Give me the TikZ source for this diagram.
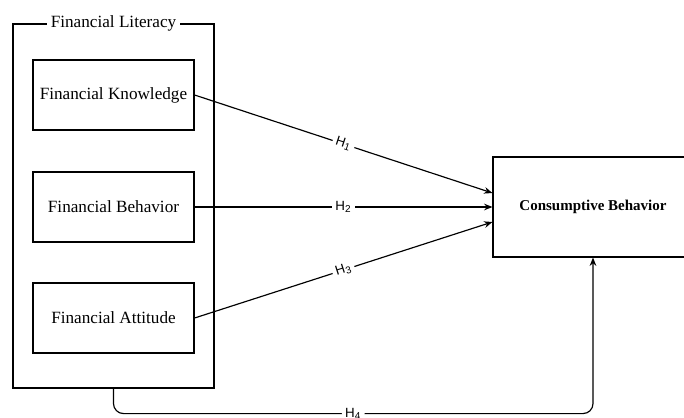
\documentclass[tikz,border=0pt]{standalone}
\usepackage{fontspec}
\setmainfont{Liberation Serif}
\newfontfamily\lblfont{Liberation Sans}
\usetikzlibrary{arrows.meta}

\begin{document}
\begin{tikzpicture}[x=0.6pt, y=-0.6pt, line width=0.7pt,
  box/.style={draw, rectangle, inner sep=0pt, minimum width=96.6pt, minimum height=42pt, font=\fontsize{10.3}{12}\selectfont},
  arr/.style={-{Stealth[length=5pt, width=4pt]}},
  hyp/.style={fill=white, inner sep=2pt, font=\lblfont\fontsize{8}{9}\selectfont}]

\useasboundingbox (0,0) rectangle (684,417);

% Outer frame with its title
\node[draw, rectangle, inner sep=0pt, minimum width=120.6pt, minimum height=218.4pt] (lit) at (113.5,206) {};
\node[fill=white, inner sep=2pt, font=\fontsize{10.3}{12}\selectfont] (littitle) at (lit.north) {Financial Literacy};

% The three dimensions
\node[box] (know) at (113.5,95) {Financial Knowledge};
\node[box] (behav) at (113.5,207) {Financial Behavior};
\node[box] (att) at (113.5,318) {Financial Attitude};

% Dependent variable
\node[draw, rectangle, inner sep=0pt, minimum width=120pt, minimum height=60pt, font=\bfseries\fontsize{9}{11}\selectfont] (cb) at (593,207) {Consumptive Behavior};

% Hypotheses
\draw[arr] (know.east) -- node[hyp, sloped] {H\textsubscript{1}} ([yshift=8.4pt]cb.west);
\draw[arr] (behav.east) -- node[hyp] {H\textsubscript{2}} (cb.west);
\draw[arr] (att.east) -- node[hyp, sloped] {H\textsubscript{3}} ([yshift=-9pt]cb.west);
\draw[arr, rounded corners=6pt] (lit.south) -- ++(0,25) -| node[hyp, pos=0.25] {H\textsubscript{4}} (cb.south);

\end{tikzpicture}
\end{document}
